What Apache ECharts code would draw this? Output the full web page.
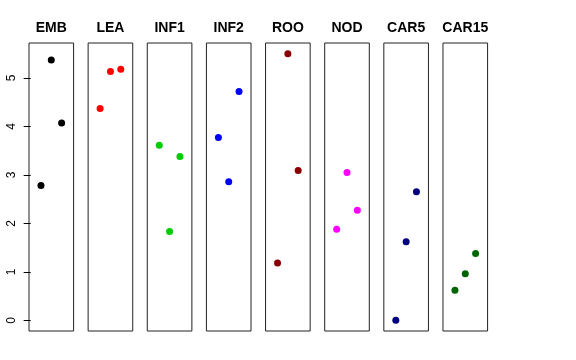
<!DOCTYPE html>
<html>
<head>
<meta charset="utf-8">
<script src="https://cdn.jsdelivr.net/npm/echarts@6/dist/echarts.min.js"></script>
<style>html,body{margin:0;padding:0;background:#fff;}#c{width:576px;height:360px;}</style>
</head>
<body>
<div id="c"></div>
<script>
const categories = ["EMB", "LEA", "INF1", "INF2", "ROO", "NOD", "CAR5", "CAR15"];
const valuesEMB   = [2.78, 5.37, 4.07];
const valuesLEA   = [4.37, 5.13, 5.18];
const valuesINF1  = [3.61, 1.83, 3.38];
const valuesINF2  = [3.77, 2.86, 4.72];
const valuesROO   = [1.18, 5.50, 3.09];
const valuesNOD   = [1.88, 3.05, 2.27];
const valuesCAR5  = [0.00, 1.62, 2.65];
const valuesCAR15 = [0.62, 0.96, 1.38];
const yTicks = [0, 1, 2, 3, 4, 5];
const colors = ["#000000", "#FF0000", "#00CD00", "#0000FF", "#8B0000", "#FF00FF", "#000080", "#006400"];

const allValues = [valuesEMB, valuesLEA, valuesINF1, valuesINF2, valuesROO, valuesNOD, valuesCAR5, valuesCAR15];

const panelLeft0 = 29, panelStep = 59.14, panelW = 44.6, panelTop = 43, panelH = 288;
const grids = [], xAxes = [], yAxes = [], series = [], titles = [];
categories.forEach((name, i) => {
  const left = panelLeft0 + i * panelStep;
  grids.push({left: left, top: panelTop, width: panelW, height: panelH, show: true,
    borderColor: '#222', borderWidth: 1, backgroundColor: 'transparent', containLabel: false});
  xAxes.push({gridIndex: i, type: 'value', min: -0.16, max: 4.16, show: false});
  yAxes.push({gridIndex: i, type: 'value', min: -0.22, max: 5.72, show: i === 0,
    splitLine: {show: false},
    axisLine: {show: false},
    axisTick: {show: true, customValues: yTicks, length: 7, lineStyle: {color: '#000'}},
    axisLabel: {show: true, customValues: yTicks, rotate: 90, margin: 11,
      fontFamily: 'Liberation Sans, Arial, sans-serif', fontSize: 12, color: '#000'}
  });
  series.push({type: 'scatter', xAxisIndex: i, yAxisIndex: i, symbol: 'circle', symbolSize: 7,
    itemStyle: {color: colors[i], opacity: 1}, silent: true,
    data: allValues[i].map((v, k) => [k + 1, v])});
  titles.push({text: name, left: left + panelW / 2, top: 21, textAlign: 'center', padding: 0,
    textStyle: {fontFamily: 'Liberation Sans, Arial, sans-serif', fontSize: 14, fontWeight: 'bold', color: '#000'}});
});

const chart = echarts.init(document.getElementById('c'), null, {renderer: 'canvas'});
chart.setOption({
  animation: false,
  backgroundColor: '#fff',
  title: titles,
  grid: grids,
  xAxis: xAxes,
  yAxis: yAxes,
  series: series
});
</script>
</body>
</html>
